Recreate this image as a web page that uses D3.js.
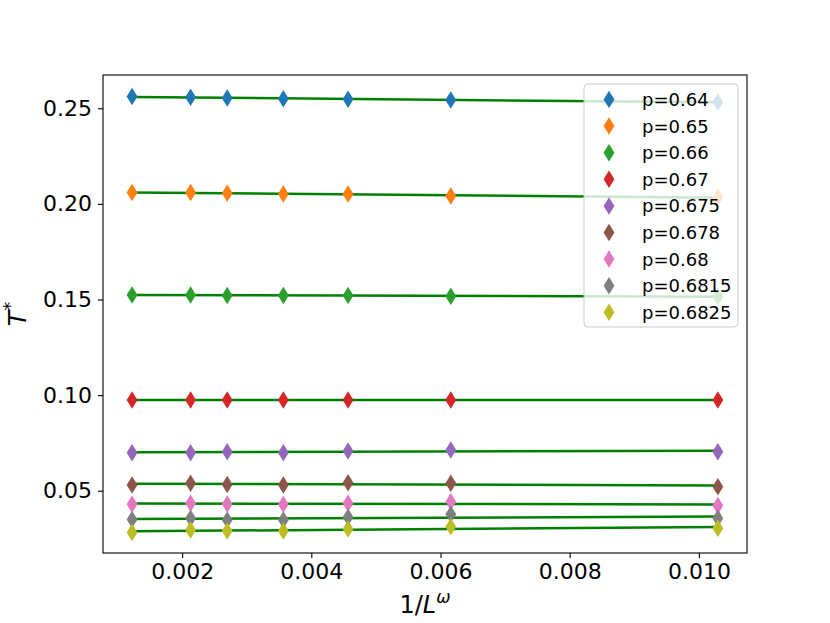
<!DOCTYPE html>
<html>
<head>
<meta charset="utf-8">
<script src="https://cdn.jsdelivr.net/npm/d3@7"></script>
<style>
  body { margin: 0; background: #fff; }
  text { font-family: "DejaVu Sans", sans-serif; }
</style>
</head>
<body>
<div id="plot"></div>
<script>
// x values (1/L^omega) shared by all series
const invL = [0.001225, 0.002131, 0.002698, 0.003567, 0.004569, 0.006159, 0.010294];

// T* for each p
const t0640 = [0.2561, 0.2558, 0.2554, 0.2550, 0.2547, 0.2543, 0.2533];
const t0650 = [0.2059, 0.2059, 0.2056, 0.2052, 0.2052, 0.2041, 0.2034];
const t0660 = [0.1524, 0.1524, 0.1521, 0.1521, 0.1521, 0.1517, 0.1515];
const t0670 = [0.0974, 0.0974, 0.0974, 0.0974, 0.0974, 0.0974, 0.0974];
const t0675 = [0.0699, 0.0699, 0.0704, 0.0699, 0.0708, 0.0713, 0.0704];
const t0678 = [0.0530, 0.0539, 0.0533, 0.0530, 0.0542, 0.0539, 0.0521];
const t0680 = [0.0429, 0.0434, 0.0430, 0.0429, 0.0434, 0.0442, 0.0422];
const t06815 = [0.0350, 0.0356, 0.0347, 0.0347, 0.0361, 0.0377, 0.0356];
const t06825 = [0.0282, 0.0294, 0.0289, 0.0289, 0.0300, 0.0312, 0.0303];

const labels = ["p=0.64", "p=0.65", "p=0.66", "p=0.67", "p=0.675", "p=0.678", "p=0.68", "p=0.6815", "p=0.6825"];
const xTicks = [0.002, 0.004, 0.006, 0.008, 0.010];
const yTicks = [0.05, 0.10, 0.15, 0.20, 0.25];

const series = [t0640, t0650, t0660, t0670, t0675, t0678, t0680, t06815, t06825];

const width = 830, height = 623;
const margin = {left: 103, right: 83, top: 75, bottom: 70};

const color = d3.scaleOrdinal()
  .domain(labels)
  .range(d3.schemeCategory10);

const x = d3.scaleLinear()
  .domain([0.000775, 0.010745])
  .range([margin.left, width - margin.right]);

const y = d3.scaleLinear()
  .domain([0.01742, 0.2674])
  .range([height - margin.bottom, margin.top]);

// matplotlib style thin diamond
const thinDiamond = {
  draw(ctx, size) {
    const h = Math.sqrt(size) / 2, w = h * 0.62;
    ctx.moveTo(0, -h);
    ctx.lineTo(w, 0);
    ctx.lineTo(0, h);
    ctx.lineTo(-w, 0);
    ctx.closePath();
  }
};
const marker = d3.symbol().type(thinDiamond).size(17.5 * 17.5);

const svg = d3.select("#plot")
  .append("svg")
    .attr("width", width)
    .attr("height", height);

svg.append("rect")
  .attr("width", width)
  .attr("height", height)
  .attr("fill", "white");

// least squares fit for each series
function fit(ys) {
  const mx = d3.mean(invL), my = d3.mean(ys);
  let sxy = 0, sxx = 0;
  invL.forEach((xv, i) => {
    sxy += (xv - mx) * (ys[i] - my);
    sxx += (xv - mx) * (xv - mx);
  });
  const b = sxy / sxx, a = my - b * mx;
  const x0 = invL[0], x1 = invL[invL.length - 1];
  return [[x0, a + b * x0], [x1, a + b * x1]];
}

const line = d3.line()
  .x(d => x(d[0]))
  .y(d => y(d[1]));

const plot = svg.append("g");

series.forEach((ys, i) => {
  plot.append("path")
    .attr("d", line(fit(ys)))
    .attr("fill", "none")
    .attr("stroke", "#008000")
    .attr("stroke-width", 2.5);
});

series.forEach((ys, i) => {
  plot.selectAll(null)
    .data(invL.map((xv, j) => [xv, ys[j]]))
    .join("path")
      .attr("d", marker)
      .attr("transform", d => `translate(${x(d[0])},${y(d[1])})`)
      .attr("fill", color(labels[i]));
});

// axes
const xAxis = svg.append("g")
  .attr("transform", `translate(0,${height - margin.bottom})`)
  .call(d3.axisBottom(x).tickValues(xTicks).tickFormat(d3.format(".3f")).tickSizeOuter(0).tickSize(5));

const yAxis = svg.append("g")
  .attr("transform", `translate(${margin.left},0)`)
  .call(d3.axisLeft(y).tickValues(yTicks).tickFormat(d3.format(".2f")).tickSizeOuter(0).tickSize(5));

[xAxis, yAxis].forEach(g => {
  g.select(".domain").remove();
  g.selectAll(".tick line").attr("stroke", "black").attr("stroke-width", 1.1);
  g.selectAll(".tick text")
    .attr("fill", "black")
    .style("font-size", "22px")
    .style("font-family", "DejaVu Sans");
});
xAxis.selectAll(".tick text").attr("dy", "0.71em").attr("y", 10);
yAxis.selectAll(".tick text").attr("x", -11);

// frame
svg.append("rect")
  .attr("x", margin.left)
  .attr("y", margin.top)
  .attr("width", width - margin.left - margin.right)
  .attr("height", height - margin.top - margin.bottom)
  .attr("fill", "none")
  .attr("stroke", "black")
  .attr("stroke-width", 1.1);

// axis labels
const xl = svg.append("text")
  .attr("x", (margin.left + width - margin.right) / 2)
  .attr("y", 613)
  .attr("text-anchor", "middle")
  .style("font-size", "24px");
xl.append("tspan").text("1/");
xl.append("tspan").text("L").style("font-style", "italic");
xl.append("tspan").text("ω").attr("dy", -10).style("font-size", "17px").style("font-style", "italic");

const yl = svg.append("text")
  .attr("transform", `translate(26,${(margin.top + height - margin.bottom) / 2}) rotate(-90)`)
  .attr("text-anchor", "middle")
  .style("font-size", "25px");
yl.append("tspan").text("T").style("font-style", "italic");
yl.append("tspan").text("*").attr("dy", -10).style("font-size", "18px");

// legend
const legend = svg.append("g").attr("transform", "translate(584,84)");
legend.append("rect")
  .attr("width", 154)
  .attr("height", 243)
  .attr("rx", 4)
  .attr("fill", "white")
  .attr("fill-opacity", 0.8)
  .attr("stroke", "#cccccc")
  .attr("stroke-width", 1);

labels.forEach((lab, i) => {
  const row = legend.append("g")
    .attr("transform", `translate(0,${15.5 + i * 26.6})`);
  row.append("path")
    .attr("d", marker)
    .attr("transform", "translate(25,0)")
    .attr("fill", color(lab));
  row.append("text")
    .attr("x", 58)
    .attr("dy", "0.36em")
    .style("font-size", "18px")
    .text(lab);
});
</script>
</body>
</html>
